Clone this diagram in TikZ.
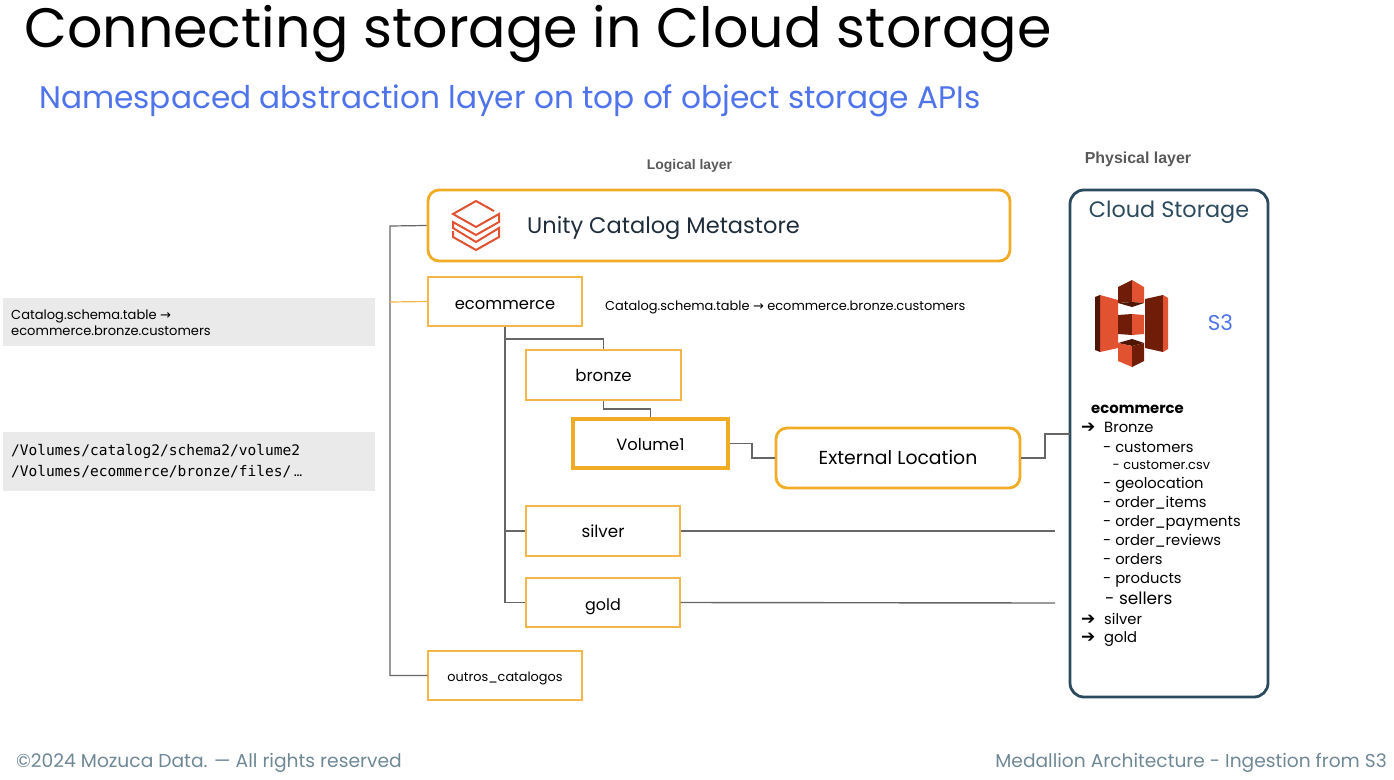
\documentclass[tikz,border=0pt]{standalone}
\usepackage{fontspec}
\setmainfont{Poppins}
\newfontfamily\monofam{DejaVu Sans Mono}
\newfontfamily\boldfam{Liberation Sans}
\newfontfamily\arrowfam{DejaVu Sans}
\definecolor{amber}{HTML}{F0AC24}
\definecolor{amberlight}{HTML}{F5B649}
\definecolor{wire}{HTML}{666666}
\definecolor{navy}{HTML}{2C4A5E}
\definecolor{inktext}{HTML}{1F2D3A}
\definecolor{bluetext}{HTML}{4F73EA}
\definecolor{footgray}{HTML}{6F8896}
\definecolor{panelgray}{HTML}{EAEAEA}
\definecolor{brick}{HTML}{E05230}
\definecolor{brickdark}{HTML}{6F1D08}
\definecolor{brickdeep}{HTML}{4F1505}
\newcommand{\fsz}[1]{\fontsize{#1}{#1}\selectfont}
\tikzset{
  thinbox/.style={draw=amberlight,line width=1.2bp,inner sep=0pt,align=center,text height=12bp,text depth=0bp},
  roundbox/.style={draw=amber,line width=2.8bp,rounded corners=11bp,inner sep=0pt,align=center,text height=12bp,text depth=0bp},
  graybox/.style={fill=panelgray,inner sep=0pt},
  wired/.style={draw=wire,line width=1.2bp},
  listitem/.style={anchor=base west,inner sep=0pt,font=\fsz{14.8}},
  plain/.style={inner sep=0pt},
}
\begin{document}
\begin{tikzpicture}[x=1bp,y=-1bp,inner sep=0pt]
\useasboundingbox(0,0) rectangle (1394,779);
% headings
\node[plain,anchor=base west] (title) at (24,48) {\fsz{55.7}Connecting storage in Cloud storage};
\node[plain,anchor=base west,text=bluetext] (subtitle) at (39,108) {\fsz{31.3}Namespaced abstraction layer on top of object storage APIs};
\node[plain,anchor=base,text=black!65] (logical) at (689.5,169) {\boldfam\bfseries\fsz{14}Logical layer};
\node[plain,anchor=base,text=black!65] (physical) at (1138,163.5) {\boldfam\bfseries\fsz{16}Physical layer};
% left panels
\node[graybox,minimum width=372bp,minimum height=48bp] (panelone) at (189,322) {};
\node[plain,anchor=base west] (paneltextone) at (11,319) {\fsz{13.1}Catalog.schema.table {\arrowfam→}};
\node[plain,anchor=base west] (paneltextonea) at (11,335) {\fsz{13.1}ecommerce.bronze.customers};
\node[graybox,minimum width=372bp,minimum height=59bp] (paneltwo) at (189,461.5) {};
\node[plain,anchor=base west] (paneltexttwo) at (11,455) {\monofam\fsz{14.6}/Volumes/catalog2/schema2/volume2};
\node[plain,anchor=base west] (paneltwoa) at (11,476.5) {\monofam\fsz{14.6}/Volumes/ecommerce/bronze/files/{\rmfamily\,…}};
% logical layer
\node[roundbox,minimum width=582bp,minimum height=71bp] (metastore) at (719,225.5) {};
\node[plain,anchor=base west,text=inktext] (metatext) at (527,233.3) {\fsz{22.6}Unity Catalog Metastore};
\node[thinbox,minimum width=154bp,minimum height=49bp,text height=15bp] (ecommerce) at (505,301.5) {\fsz{16.4}ecommerce};
\node[plain,anchor=base west] (pathnote) at (605,310) {\fsz{13}Catalog.schema.table {\arrowfam→} ecommerce.bronze.customers};
\node[thinbox,minimum width=155bp,minimum height=50bp] (bronze) at (603.5,375) {\fsz{16.6}bronze};
\node[draw=amber,line width=4bp,inner sep=0pt,minimum width=155bp,minimum height=49bp,text height=13bp,text depth=0bp] (volume) at (650.5,443.5) {\fsz{16.4}Volume1};
\node[roundbox,minimum width=244bp,minimum height=60bp] (external) at (898,458) {\fsz{18.9}External Location};
\node[thinbox,minimum width=154bp,minimum height=50bp,text height=13bp] (silver) at (603,531) {\fsz{16.8}silver};
\node[thinbox,minimum width=154bp,minimum height=49bp,text height=15bp] (gold) at (603,602.5) {\fsz{16}gold};
\node[thinbox,minimum width=154bp,minimum height=49bp] (outros) at (505,675.5) {\fsz{12.9}outros\_catalogos};
% physical layer
\node[draw=navy,line width=2.8bp,rounded corners=14bp,minimum width=198bp,minimum height=507bp] (cloud) at (1169,443.5) {};
\node[plain,anchor=base,text=navy] (cloudtext) at (1169,217.3) {\fsz{22.4}Cloud Storage};
\node[plain,anchor=base,text=bluetext] (sthree) at (1220.5,330) {\fsz{21.5}S3};
% free ends and joints
\coordinate (silverend) at (1055,531);
\coordinate (goldend) at (1055,603);
\coordinate (trunktop) at (390,226);
\coordinate (trunkcat) at (390,302);
\coordinate (stemtop) at (505,339);
\coordinate (stemsilver) at (505,531);
\coordinate (bronzejog) at (650.5,409);
\coordinate (volumejog) at (752,443.5);
\coordinate (externaljog) at (1045,458);
\coordinate (cloudport) at (1070,434);
% connectors
\draw[wired] (metastore.west) -- (trunktop) |- (outros.west);
\draw[draw=amberlight,line width=1.2bp] (trunkcat) -- (ecommerce.west);
\draw[wired,line width=1.5bp] (ecommerce.south) |- (gold.west);
\draw[wired] (stemtop) -| (bronze.north);
\draw[wired] (stemsilver) -- (silver.west);
\draw[wired] (bronze.south) |- (bronzejog) -- (volume.north);
\draw[wired] (volume.east) -- (volumejog) |- (external.west);
\draw[wired] (external.east) -- (externaljog) |- (cloudport);
\draw[wired,line width=1.4bp] (silver.east) -- (silverend);
\draw[wired,line width=1.4bp] (gold.east) -- (goldend);
% databricks mark
\draw[brick,line width=2bp] (494,211) -- (476,201) -- (453,214) -- (476,227) -- (499,214) -- (499,222) -- (476,235) -- (453,222) -- (453,228) -- (476,242) -- (499,228) -- (499,237) -- (476,250) -- (453,237) -- (453,231);
% s3 mark
\fill[brick] (1100,295) -- (1118,300) -- (1118,348) -- (1100,352) -- cycle;
\fill[brickdeep] (1095,297) -- (1100,295) -- (1100,352) -- (1095,350) -- cycle;
\fill[brickdark] (1145,299) -- (1163,295) -- (1163,352) -- (1145,348) -- cycle;
\fill[brick] (1163,295) -- (1168,298) -- (1168,349) -- (1163,352) -- cycle;
\fill[brickdark] (1118,287) -- (1132,280) -- (1132,302) -- (1118,303) -- cycle;
\fill[brick] (1132,280) -- (1144,287) -- (1144,303) -- (1132,302) -- cycle;
\fill[brickdeep] (1118,303) -- (1132,302) -- (1144,303) -- (1132,307) -- cycle;
\fill[brickdark] (1118,315) -- (1132,314) -- (1132,335) -- (1118,334) -- cycle;
\fill[brick] (1132,314) -- (1144,315) -- (1144,334) -- (1132,335) -- cycle;
\fill[brickdeep] (1118,343) -- (1132,339) -- (1144,343) -- (1132,346) -- cycle;
\fill[brick] (1118,343) -- (1132,346) -- (1132,367) -- (1118,361) -- cycle;
\fill[brickdark] (1132,346) -- (1144,343) -- (1144,361) -- (1132,367) -- cycle;
% bucket listing
\node[listitem,font=\bfseries\fsz{14.9}] (listhead) at (1091,413) {ecommerce};
\foreach \name/\ypos/\lab in {arrone/432.7/{Bronze},arrtwo/624/{silver},arrthree/642.7/{gold}}{
  \node[listitem] (\name) at (1104,\ypos) {\lab};
  \node[plain,anchor=base west] (\name mark) at (1081,\ypos) {\arrowfam\fsz{17}➔};
}
\foreach \name/\ypos/\lab in {customers/452.3/customers,geolocation/488.3/geolocation,items/507/order\_items,payments/526/order\_payments,reviews/545.3/order\_reviews,orders/564.3/orders,products/583.3/products}{
  \node[listitem] (\name) at (1103,\ypos) {- \lab};
}
\node[listitem,font=\fsz{13}] (csv) at (1112.5,469) {- customer.csv};
\node[listitem,font=\fsz{17}] (sellers) at (1105,604) {- sellers};
% footer
\node[plain,anchor=base west,text=footgray] (copyright) at (16,767) {\fsz{18.75}©2024 Mozuca Data. — All rights reserved};
\node[plain,anchor=base east,text=footgray] (deck) at (1387,767) {\fsz{18.7}Medallion Architecture - Ingestion from S3};
\end{tikzpicture}
\end{document}
